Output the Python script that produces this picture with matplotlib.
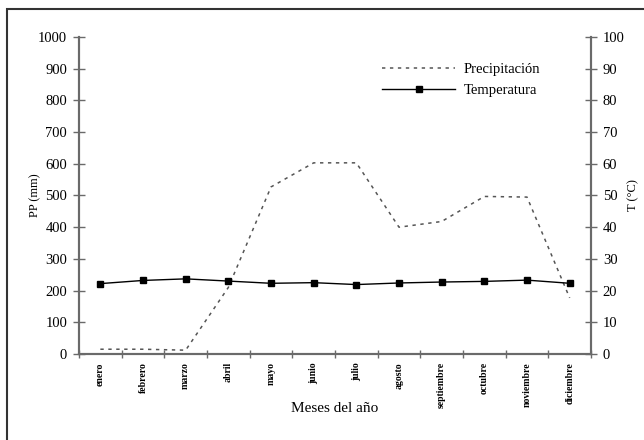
import matplotlib
matplotlib.use('Agg')
import matplotlib.pyplot as plt
from matplotlib.patches import Rectangle

plt.rcParams['font.family'] = ['Liberation Serif', 'DejaVu Serif']

# datos
meses = ['enero', 'febrero', 'marzo', 'abril', 'mayo', 'junio', 'julio',
         'agosto', 'septiembre', 'octubre', 'noviembre', 'diciembre']
precipitacion = [15, 15, 12, 210, 527, 603, 603, 400, 418, 497, 495, 177]
temperatura = [22.2, 23.2, 23.7, 23.0, 22.3, 22.5, 21.9, 22.4, 22.7, 22.9, 23.3, 22.3]

x = [i + 0.5 for i in range(len(meses))]
gris = '#6a6a6a'

fig = plt.figure(figsize=(6.44, 4.4), dpi=100)
ax = fig.add_axes([0.1227, 0.1955, 0.795, 0.7204])
ax2 = ax.twinx()

# marco de la figura
fig.patches.append(Rectangle((7 / 644, -0.05), 1.2, 1 - 9 / 440 + 0.05,
                             transform=fig.transFigure, fill=False,
                             edgecolor='#333333', linewidth=1.5, clip_on=False))

l1, = ax.plot(x, precipitacion, color='#555555', linestyle=(0, (2.2, 3)),
              linewidth=1.1, label='Precipitación')
l2, = ax2.plot(x, temperatura, color='black', linewidth=1.0, marker='s',
               markersize=5, label='Temperatura')

ax.set_xlim(0, 12)
ax.set_ylim(0, 1000)
ax2.set_ylim(0, 100)
ax.set_yticks(range(0, 1001, 100))
ax2.set_yticks(range(0, 101, 10))

ax.set_xticks(range(0, 13))
ax.set_xticklabels([])
ax.set_xticks(x, minor=True)
ax.set_xticklabels(meses, minor=True, rotation=90, fontsize=7, fontweight='bold')
ax.tick_params(axis='x', which='minor', length=0, pad=6)
ax.tick_params(axis='x', which='major', direction='inout', length=6, width=1, color=gris)

ax.tick_params(axis='y', direction='inout', length=9, width=1, color=gris,
               labelsize=10.5, pad=4)
ax2.tick_params(axis='y', direction='inout', length=9, width=1, color=gris,
                labelsize=10.5, pad=4)

for a in (ax, ax2):
    a.spines['top'].set_visible(False)
    for s in ('left', 'right', 'bottom'):
        a.spines[s].set_color(gris)
        a.spines[s].set_linewidth(1.5)

ax.set_ylabel('PP (mm)', fontsize=9)
ax2.set_ylabel('T (°C)', fontsize=9, rotation=90)
ax.yaxis.set_label_coords(-0.073, 0.5)
ax2.yaxis.set_label_coords(1.07, 0.5)
ax.set_xlabel('Meses del año', fontsize=11)
ax.xaxis.set_label_coords(0.5, -0.15)

ax2.legend([l1, l2], ['Precipitación', 'Temperatura'], frameon=False,
           loc='upper left', bbox_to_anchor=(0.567, 0.96), fontsize=10.5,
           handlelength=5.0, handletextpad=0.6, labelspacing=0.55)

plt.savefig('out.png', dpi=100)
